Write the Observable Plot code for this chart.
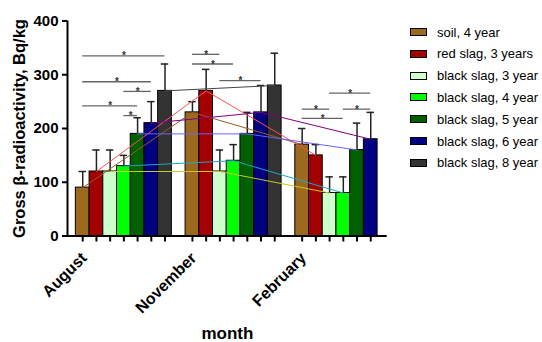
<!DOCTYPE html>
<html><head><meta charset="utf-8">
<script src="https://cdn.jsdelivr.net/npm/d3@7"></script>
<script src="https://cdn.jsdelivr.net/npm/@observablehq/plot@0.6"></script>
<style>
body{margin:0;background:#fff;}
#wrap{position:relative;width:542px;height:342px;font-family:"Liberation Sans",Arial,sans-serif;overflow:hidden;}
.row{position:absolute;left:410px;height:14px;display:flex;align-items:center;font-size:13px;white-space:nowrap;color:#000;}
.sw{box-sizing:border-box;width:17px;height:8px;border:1px solid #000;margin-right:10px;}
</style></head><body><div id="wrap"></div>
<script>
// ---- data ----
const months = ["August", "November", "February"];
const series = ["soil, 4 year", "red slag, 3 years", "black slag, 3 year", "black slag, 4 year", "black slag, 5 year", "black slag, 6 year", "black slag, 8 year"];
const barColors = ["#9c6a1e", "#a30000", "#ccffcc", "#00ff00", "#006000", "#000080", "#333333"];
const lineColors = ["#9a5a24", "#ff5050", "#c8c81e", "#1ea6c4", "#6464ff", "#800080", "#444444"];
const augMean = [90, 120, 120, 130, 190, 210, 270];
const augSD   = [30, 40, 40, 20, 30, 40, 50];
const novMean = [230, 270, 120, 140, 190, 230, 280];
const novSD   = [20, 40, 40, 30, 40, 50, 60];
const febMean = [170, 150, 80, 80, 160, 180, null];
const febSD   = [30, 20, 30, 30, 50, 50, null];
const yTicks = [0, 100, 200, 300, 400];
// significance brackets (month index, from series, to series, level)
const sigMonth = [0, 0, 0, 0, 0, 1, 1, 1, 2, 2, 2, 2];
const sigFrom  = [0, 0, 3, 0, 3, 0, 0, 2, 2, 0, 3, 0];
const sigTo    = [6, 5, 5, 4, 4, 2, 3, 5, 5, 2, 5, 3];
const sigLevel = [335, 287, 269, 242, 224, 338, 320, 289, 266, 236, 236, 219];
const yLabel = "Gross β-radioactivity, Bq/kg";
const xLabel = "month";

// ---- build table ----
const means = [augMean, novMean, febMean];
const sds = [augSD, novSD, febSD];
const slotOf = (m, s) => m * 8 + s;
const rows = [];
months.forEach((m, mi) => series.forEach((s, si) => {
  const v = means[mi][si];
  if (v == null) return;
  rows.push({month: m, mi, series: s, si, slot: slotOf(mi, si), mean: v, top: v + sds[mi][si]});
}));
const sig = sigMonth.map((m, i) => ({x1: slotOf(m, sigFrom[i]), x2: slotOf(m, sigTo[i]), y: sigLevel[i]}));
const monthRows = months.map((m, mi) => ({month: m, slot: slotOf(mi, 0)}));
const xDomain = [-1.11, 22.2];

const chart = Plot.plot({
  width: 542, height: 342,
  marginLeft: 67, marginRight: 155.3, marginTop: 20.5, marginBottom: 106.5,
  style: {fontFamily: "'Liberation Sans', Arial, sans-serif", fontWeight: "bold", fontSize: "15px", background: "white", overflow: "visible"},
  x: {type: "linear", domain: xDomain, axis: null},
  y: {domain: [0, 400], axis: null},
  color: {type: "identity"},
  marks: [
    Plot.rect(rows, {x1: d => d.slot - 0.5, x2: d => d.slot + 0.5, y1: 0, y2: "mean", fill: d => barColors[d.si], stroke: "#000", strokeWidth: 1}),
    Plot.ruleX(rows, {x: "slot", y1: "mean", y2: "top", stroke: "#222", strokeWidth: 1.5}),
    Plot.ruleY(rows, {y: "top", x1: d => d.slot - 0.27, x2: d => d.slot + 0.27, stroke: "#222", strokeWidth: 1.5}),
    Plot.line(rows, {x: "slot", y: "mean", z: "series", stroke: d => lineColors[d.si], strokeWidth: 1}),
    Plot.ruleY(sig, {y: "y", x1: "x1", x2: "x2", stroke: "#666", strokeWidth: 1.3}),
    Plot.text(sig, {x: d => (d.x1 + d.x2) / 2, y: "y", text: () => "*", lineAnchor: "bottom", dy: 3.5, fontSize: 10, fill: "#333"}),
    Plot.ruleY([0], {stroke: "#000", strokeWidth: 2}),
    Plot.ruleX([xDomain[0]], {stroke: "#000", strokeWidth: 2}),
    Plot.axisX({ticks: rows.map(d => d.slot), tickFormat: () => "", tickSize: 6, strokeWidth: 2, label: null}),
    Plot.axisY({ticks: yTicks, tickSize: 5, strokeWidth: 2, tickPadding: 4, fontSize: 15, label: null}),
    Plot.text(monthRows, {x: "slot", y: 0, text: "month", rotate: -45, textAnchor: "end", lineAnchor: "bottom", dx: 5, dy: 23, fontSize: 16, fontWeight: "bold"}),
    Plot.text([yLabel], {frameAnchor: "left", textAnchor: "middle", rotate: -90, dx: -48, fontSize: 16.5, fontWeight: "bold"}),
    Plot.text([xLabel], {frameAnchor: "bottom", textAnchor: "middle", lineAnchor: "bottom", dy: 103, fontSize: 17, fontWeight: "bold"})
  ]
});
const wrap = document.getElementById("wrap");
wrap.appendChild(chart);
series.forEach((s, i) => {
  const row = document.createElement("div");
  row.className = "row";
  row.style.top = (25 + i * 21.8) + "px";
  const sw = document.createElement("div");
  sw.className = "sw";
  sw.style.background = barColors[i];
  row.appendChild(sw);
  row.appendChild(document.createTextNode(s));
  wrap.appendChild(row);
});
</script></body></html>
